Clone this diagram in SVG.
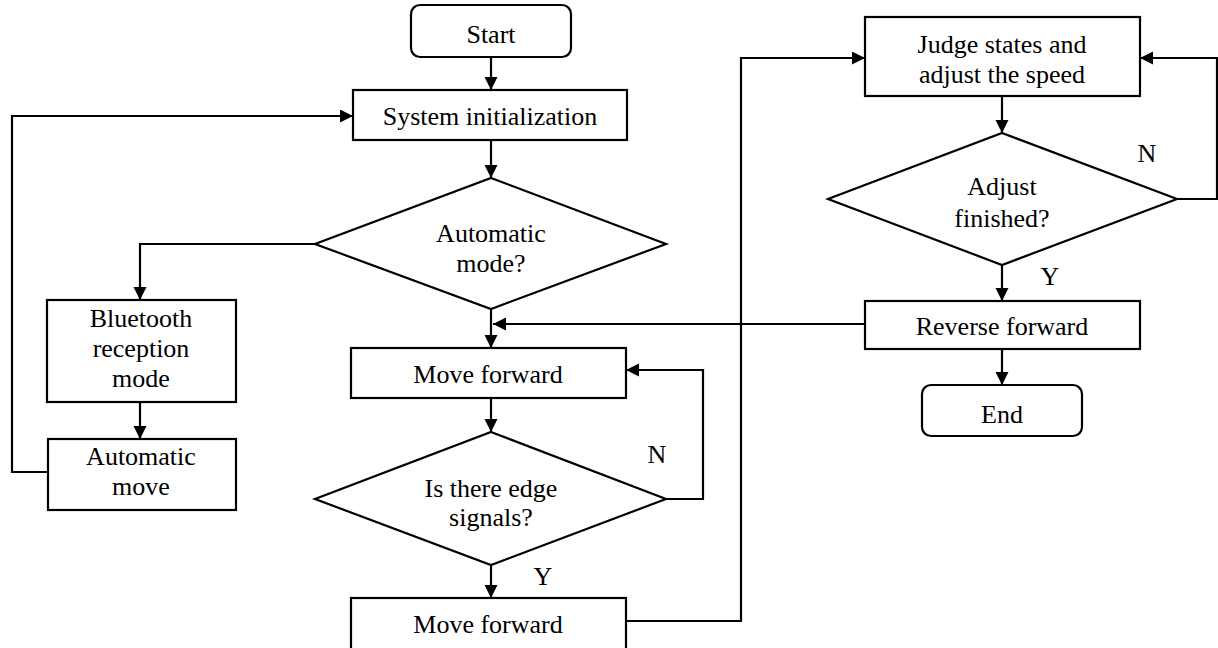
<svg xmlns="http://www.w3.org/2000/svg" width="1218" height="648" viewBox="0 0 1218 648">
<style>
.box{fill:#fff;stroke:#000;stroke-width:2.2}
.t{font-family:"Liberation Serif","Times New Roman",serif;font-size:26px;fill:#000;text-anchor:middle}
.c{fill:none;stroke:#000;stroke-width:2.2}
</style>
<defs>
<marker id="ah" markerUnits="userSpaceOnUse" markerWidth="14" markerHeight="14" refX="13" refY="6.5" orient="auto">
<path d="M0,0 L13,6.5 L0,13 Z" fill="#000"/>
</marker>
</defs>
<rect width="1218" height="648" fill="#fff"/>
<g id="connectors">
<path class="c" d="M491,57 V90" marker-end="url(#ah)"/>
<path class="c" d="M491,140 V178" marker-end="url(#ah)"/>
<path class="c" d="M315,244 H140 V300" marker-end="url(#ah)"/>
<path class="c" d="M140,402 V439" marker-end="url(#ah)"/>
<path class="c" d="M48,472 H12 V116 H353" marker-end="url(#ah)"/>
<path class="c" d="M491,309 V348" marker-end="url(#ah)"/>
<path class="c" d="M491,398 V432" marker-end="url(#ah)"/>
<path class="c" d="M666,499 H703 V370 H626" marker-end="url(#ah)"/>
<path class="c" d="M491,565 V598" marker-end="url(#ah)"/>
<path class="c" d="M626,621 H741 V58 H865" marker-end="url(#ah)"/>
<path class="c" d="M1002,96 V133" marker-end="url(#ah)"/>
<path class="c" d="M1177,199 H1217 V58 H1140" marker-end="url(#ah)"/>
<path class="c" d="M1002,265 V301" marker-end="url(#ah)"/>
<path class="c" d="M865,324 H493" marker-end="url(#ah)"/>
<path class="c" d="M1002,349 V385" marker-end="url(#ah)"/>
<text class="t" x="657" y="463">N</text>
<text class="t" x="543" y="585">Y</text>
<text class="t" x="1147" y="162">N</text>
<text class="t" x="1050" y="285">Y</text>
</g>
<g id="start">
<rect class="box" x="411" y="5" width="160" height="52" rx="9"/>
<text class="t" x="491" y="43">Start</text>
</g>
<g id="init">
<rect class="box" x="353" y="90" width="274" height="50"/>
<text class="t" x="490" y="125">System initialization</text>
</g>
<g id="automode">
<polygon class="box" points="491,178 666,244 491,309 315,244"/>
<text class="t" x="491" y="242">Automatic</text>
<text class="t" x="491" y="272">mode?</text>
</g>
<g id="bluetooth">
<rect class="box" x="47" y="300" width="189" height="102"/>
<text class="t" x="141" y="327">Bluetooth</text>
<text class="t" x="141" y="357">reception</text>
<text class="t" x="141" y="387">mode</text>
</g>
<g id="automove">
<rect class="box" x="48" y="439" width="188" height="71"/>
<text class="t" x="141" y="465">Automatic</text>
<text class="t" x="141" y="495">move</text>
</g>
<g id="move1">
<rect class="box" x="351" y="348" width="275" height="50"/>
<text class="t" x="488" y="383">Move forward</text>
</g>
<g id="edge">
<polygon class="box" points="491,432 666,499 491,565 315,499"/>
<text class="t" x="491" y="497">Is there edge</text>
<text class="t" x="491" y="526">signals?</text>
</g>
<g id="move2">
<rect class="box" x="351" y="598" width="275" height="56"/>
<text class="t" x="488" y="633">Move forward</text>
</g>
<g id="judge">
<rect class="box" x="865" y="17" width="275" height="79"/>
<text class="t" x="1002" y="53">Judge states and</text>
<text class="t" x="1002" y="83">adjust the speed</text>
</g>
<g id="adjust">
<polygon class="box" points="1002,133 1177,199 1002,265 828,199"/>
<text class="t" x="1002" y="195">Adjust</text>
<text class="t" x="1002" y="227">finished?</text>
</g>
<g id="reverse">
<rect class="box" x="865" y="301" width="275" height="48"/>
<text class="t" x="1002" y="335">Reverse forward</text>
</g>
<g id="end">
<rect class="box" x="922" y="385" width="160" height="51" rx="9"/>
<text class="t" x="1002" y="423">End</text>
</g>
</svg>
